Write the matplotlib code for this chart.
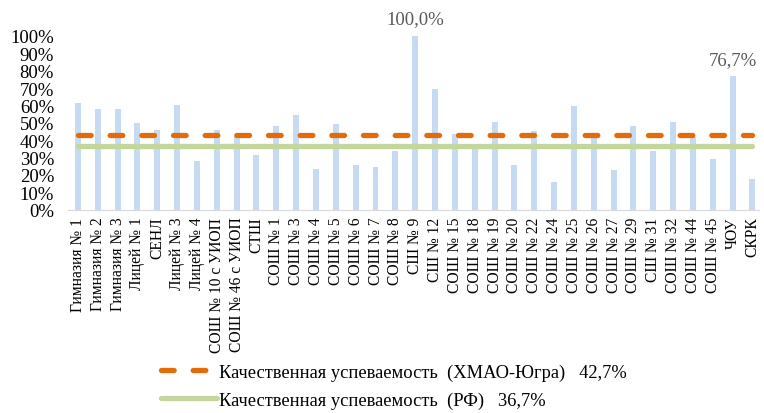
import matplotlib.pyplot as plt
from matplotlib.ticker import PercentFormatter

plt.rcParams['font.family'] = ['Liberation Serif', 'DejaVu Serif']

# schools and quality rate, share of 1
schools = ["Гимназия № 1", "Гимназия № 2", "Гимназия № 3", "Лицей № 1", "СЕНЛ",
           "Лицей № 3", "Лицей № 4", "СОШ № 10 с УИОП", "СОШ № 46 с УИОП", "СТШ",
           "СОШ № 1", "СОШ № 3", "СОШ № 4", "СОШ № 5", "СОШ № 6", "СОШ № 7",
           "СОШ № 8", "СШ № 9", "СШ № 12", "СОШ № 15", "СОШ № 18", "СОШ № 19",
           "СОШ № 20", "СОШ № 22", "СОШ № 24", "СОШ № 25", "СОШ № 26", "СОШ № 27",
           "СОШ № 29", "СШ № 31", "СОШ № 32", "СОШ № 44", "СОШ № 45", "ЧОУ", "СКРК"]
quality = [0.616, 0.581, 0.581, 0.500, 0.460, 0.604, 0.279, 0.456, 0.425, 0.312,
           0.481, 0.545, 0.233, 0.495, 0.258, 0.248, 0.340, 1.000, 0.696, 0.437,
           0.355, 0.504, 0.258, 0.454, 0.162, 0.597, 0.415, 0.227, 0.481, 0.339,
           0.504, 0.420, 0.294, 0.767, 0.177]
labelled = {"СШ № 9": "100,0%", "ЧОУ": "76,7%"}

hmao = 0.427
rf = 0.367

fig = plt.figure(figsize=(7.64, 4.14), dpi=100)
ax = fig.add_axes([0.089, 0.491, 0.905, 0.42])

x = list(range(len(schools)))
ax.bar(x, quality, width=0.3, color="#C6DBF1", zorder=1)
ax.plot([x[0], x[-1]], [rf, rf], color="#C3D69B", lw=3.8,
        solid_capstyle="round", zorder=2,
        label="Качественная успеваемость  (РФ)   36,7%")
ax.plot([x[0], x[-1]], [hmao, hmao], color="#E36C09", lw=3.8,
        dashes=(2.4, 3.6), dash_capstyle="round", zorder=3,
        label="Качественная успеваемость  (ХМАО-Югра)   42,7%")

for i, name in enumerate(schools):
    if name in labelled:
        ax.annotate(labelled[name], (i, quality[i]), xytext=(0, 6),
                    textcoords="offset points", ha="center", va="bottom",
                    fontsize=13.5, color="#595959")

ax.set_xlim(-0.5, len(schools) - 0.65)
ax.set_ylim(0, 1)
ax.set_yticks([i / 10 for i in range(11)])
ax.yaxis.set_major_formatter(PercentFormatter(1.0, decimals=0))
ax.set_xticks(x)
ax.set_xticklabels(schools, rotation=90)
ax.tick_params(axis="both", length=0)
ax.tick_params(axis="y", labelsize=13.5, pad=10)
ax.tick_params(axis="x", labelsize=11.2, pad=5)
for side in ["top", "right", "left"]:
    ax.spines[side].set_visible(False)
ax.spines["bottom"].set_color("#D9D9D9")

handles, labels = ax.get_legend_handles_labels()
fig.legend(handles[::-1], labels[::-1], loc="upper left",
           bbox_to_anchor=(152 / 764, 1 - 355 / 414), frameon=False,
           fontsize=13.3, handlelength=3.0, handletextpad=0.15,
           labelspacing=0.6, borderpad=0)

fig.savefig("out.png", dpi=100)
